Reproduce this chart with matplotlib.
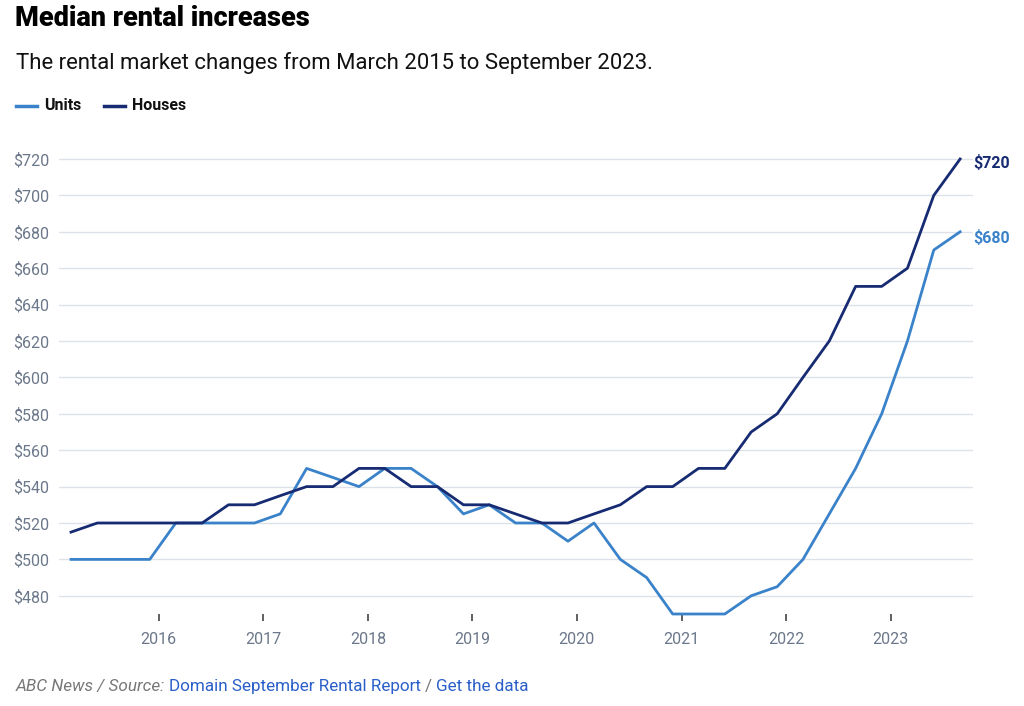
import numpy as np
import pandas as pd
import matplotlib
matplotlib.use("Agg")
import matplotlib.pyplot as plt

# quarterly medians, March 2015 .. September 2023
dates = pd.date_range("2015-03-01", "2023-09-01", freq="3MS")
units = [500, 500, 500, 500,
         520, 520, 520, 520,
         525, 550, 545, 540,
         550, 550, 540, 525,
         530, 520, 520, 510,
         520, 500, 490, 470,
         470, 470, 480, 485,
         500, 525, 550, 580,
         620, 670, 680]
houses = [515, 520, 520, 520,
          520, 520, 530, 530,
          535, 540, 540, 550,
          550, 540, 540, 530,
          530, 525, 520, 520,
          525, 530, 540, 540,
          550, 550, 570, 580,
          600, 620, 650, 650,
          660, 700, 720]
years = list(range(2016, 2024))
y_ticks = list(range(480, 721, 20))

c_units = "#3a82c9"
c_houses = "#172b73"
c_grey = "#6b778a"

plt.rcParams["font.family"] = ["Roboto", "DejaVu Sans"]

fig = plt.figure(figsize=(10.24, 7.06), dpi=100)
W, H = 1024, 706
ax = fig.add_axes([59 / W, 1 - 614 / H, (973 - 59) / W, (614 - 155) / H])

ax.plot(dates, units, color=c_units, lw=2.0, clip_on=False, zorder=3)
ax.plot(dates, houses, color=c_houses, lw=2.0, clip_on=False, zorder=4)

ax.set_xlim(pd.Timestamp("2015-01-18"), pd.Timestamp("2023-10-16"))
ax.set_ylim(470, 722.2)

ax.set_yticks(y_ticks)
ax.set_yticklabels([f"${v}" for v in y_ticks])
ax.set_xticks([pd.Timestamp(f"{y}-01-01") for y in years])
ax.set_xticklabels([str(y) for y in years])

for s in ax.spines.values():
    s.set_visible(False)
ax.grid(axis="y", color="#dde1e8", lw=1)
ax.set_axisbelow(True)
ax.tick_params(axis="y", length=0, pad=7, labelsize=11.5, labelcolor=c_grey)
ax.tick_params(axis="x", length=5, width=1.2, color="#444444", direction="out",
               pad=8, labelsize=11.5, labelcolor=c_grey)

# end labels
ax.annotate(f"${houses[-1]}", (dates[-1], houses[-1]), xytext=(13, -4),
            textcoords="offset pixels", va="center", ha="left",
            color=c_houses, fontsize=11.5, fontweight="bold", annotation_clip=False)
ax.annotate(f"${units[-1]}", (dates[-1], units[-1]), xytext=(13, -6),
            textcoords="offset pixels", va="center", ha="left",
            color=c_units, fontsize=11.5, fontweight="bold", annotation_clip=False)

# titles
fig.text(15 / W, 1 - 18 / H, "Median rental increases", fontsize=19.5,
         fontweight="black", va="center", ha="left", color="black")
fig.text(16 / W, 1 - 63 / H, "The rental market changes from March 2015 to September 2023.",
         fontsize=15.9, va="center", ha="left", color="#111111")

# legend
for x0, col, label in [(16, c_units, "Units"), (104, c_houses, "Houses")]:
    fig.add_artist(plt.Line2D([x0 / W, (x0 + 21) / W], [1 - 106 / H] * 2,
                              color=col, lw=2.5, transform=fig.transFigure))
    fig.text((x0 + 28) / W, 1 - 106 / H, label, fontsize=11.5, fontweight="bold",
             va="center", ha="left", color="#111111")

# footer, pieces laid out one after another
fig.canvas.draw()
r = fig.canvas.get_renderer()
x = 16
pieces = [("ABC News / Source:", "#777777", "italic", 4),
          ("Domain September Rental Report", "#2a5fc9", "normal", 4),
          ("/", "#777777", "normal", 4),
          ("Get the data", "#2a5fc9", "normal", 0)]
for txt, col, style, gap in pieces:
    t = fig.text(x / W, 1 - 691 / H, txt, fontsize=12.3, color=col, style=style,
                 va="baseline", ha="left")
    bb = t.get_window_extent(renderer=r)
    x += bb.width + gap

fig.savefig("out.png", dpi=100)
